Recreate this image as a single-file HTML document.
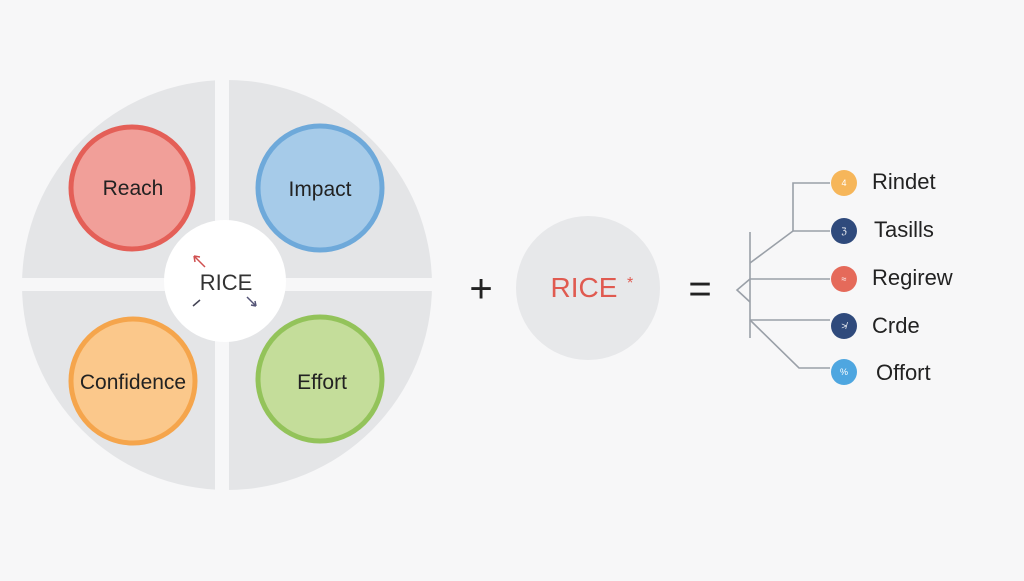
<!DOCTYPE html>
<html><head><style>
body{margin:0;width:1024px;height:576px;background:#f7f7f8;overflow:hidden;font-family:"Liberation Sans",sans-serif}
</style></head><body>
<svg width="1024" height="576" viewBox="0 0 1024 576" xmlns="http://www.w3.org/2000/svg" font-family="Liberation Sans, sans-serif">
<circle cx="227" cy="285" r="205" fill="#e4e5e7"/>
<rect x="215" y="78" width="14" height="415" fill="#f7f7f8"/>
<rect x="20" y="278" width="415" height="13" fill="#f7f7f8"/>
<circle cx="225" cy="281" r="61" fill="#fff"/>
<circle cx="132" cy="188" r="61" fill="#f19f99" stroke="#e45f57" stroke-width="5"/>
<circle cx="320" cy="188" r="62" fill="#a6cbe9" stroke="#6ea9da" stroke-width="5"/>
<circle cx="133" cy="381" r="62" fill="#fbc88b" stroke="#f5a54c" stroke-width="5"/>
<circle cx="320" cy="379" r="62" fill="#c4dd9a" stroke="#93c35a" stroke-width="5"/>
<g font-size="21" fill="#222" text-anchor="middle">
<text x="133" y="195">Reach</text>
<text x="320" y="196">Impact</text>
<text x="133" y="389">Confidence</text>
<text x="322" y="389">Effort</text>
</g>
<text x="226" y="290" font-size="22" fill="#333" text-anchor="middle">RICE</text>
<path d="M205 267 L194 256 M194 256 l1 6 M194 256 l6 1" stroke="#d05050" stroke-width="1.5" fill="none"/>
<path d="M200 300 L193 306" stroke="#445" stroke-width="1.5"/>
<path d="M247 297 L256 306 M256 306 l-1 -5 M256 306 l-5 -1" stroke="#557" stroke-width="1.5" fill="none"/>
<text x="481" y="302" font-size="40" fill="#222" text-anchor="middle">+</text>
<circle cx="588" cy="288" r="72" fill="#e7e8ea"/>
<text x="584" y="297" font-size="28" fill="#e05a50" text-anchor="middle">RICE</text>
<text x="627" y="288" font-size="16" fill="#e05a50">*</text>
<text x="700" y="302" font-size="40" fill="#222" text-anchor="middle">=</text>
<g stroke="#9aa0a8" stroke-width="1.6" fill="none">
<path d="M830 183 H793 V231 H830"/>
<path d="M750 232 V338"/>
<path d="M750 263 L793 231"/>
<path d="M750 279 H830"/>
<path d="M750 279 L737 290 L750 302"/>
<path d="M750 320 H830"/>
<path d="M750 320 L799 368 H830"/>
</g>
<circle cx="844" cy="183" r="13" fill="#f6b65a"/>
<circle cx="844" cy="231" r="13" fill="#2f4a7c"/>
<circle cx="844" cy="279" r="13" fill="#e56a5a"/>
<circle cx="844" cy="326" r="13" fill="#2f4a7c"/>
<circle cx="844" cy="372" r="13" fill="#4ea6e0"/>
<g font-size="9" fill="#fff" text-anchor="middle">
<text x="844" y="186">4</text><text x="844" y="234">ℨ</text><text x="844" y="282">≈</text><text x="844" y="329">≯</text><text x="844" y="375">%</text>
</g>
<g font-size="22" fill="#222">
<text x="872" y="189">Rindet</text>
<text x="874" y="237">Tasills</text>
<text x="872" y="285">Regirew</text>
<text x="872" y="333">Crde</text>
<text x="876" y="380">Offort</text>
</g>
</svg>
</body></html>
